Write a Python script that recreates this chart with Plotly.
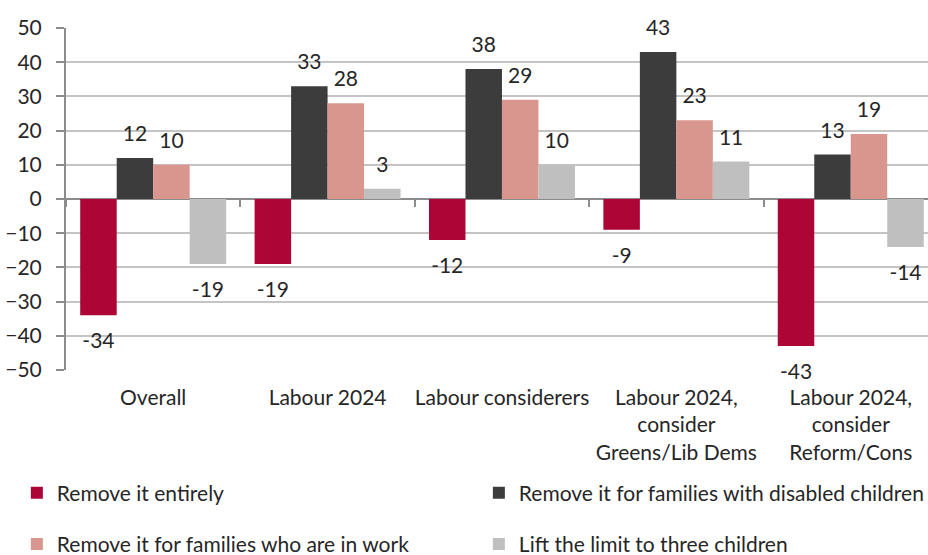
import plotly.graph_objects as go

# ---------------- data ----------------
categories = [
    "Overall",
    "Labour 2024",
    "Labour considerers",
    "Labour 2024,<br>consider<br>Greens/Lib Dems",
    "Labour 2024,<br>consider<br>Reform/Cons",
]
series_names = [
    "Remove it entirely",
    "Remove it for families with disabled children",
    "Remove it for families who are in work",
    "Lift the limit to three children",
]
remove_entirely = [-34, -19, -12, -9, -43]
remove_disabled = [12, 33, 38, 43, 13]
remove_in_work = [10, 28, 29, 23, 19]
lift_to_three = [-19, 3, 10, 11, -14]
y_tick_values = [-50, -40, -30, -20, -10, 0, 10, 20, 30, 40, 50]

series_values = [remove_entirely, remove_disabled, remove_in_work, lift_to_three]

# ---------------- style ----------------
colors = ["#AC0536", "#3C3C3C", "#D8968F", "#BFBFBF"]
legend_ids = ["legend", "legend", "legend2", "legend2"]
FONT = "Lato, 'Open Sans', sans-serif"
TEXT_COLOR = "#262626"
AXIS_GRAY = "#8C8C8C"
GRID_GRAY = "#C4C4C4"
GAP = 0.163

fig = go.Figure()

for i, (name, vals) in enumerate(zip(series_names, series_values)):
    fig.add_trace(go.Bar(
        x=categories, y=vals, name=name,
        marker=dict(color=colors[i], line=dict(width=0)),
        offsetgroup=str(i), legend=legend_ids[i],
        hoverinfo="skip",
    ))

# value labels: invisible markers grouped like the bars, text offset from bar ends
for i, vals in enumerate(series_values):
    fig.add_trace(go.Scatter(
        x=categories, y=vals, xaxis="x2", yaxis="y",
        mode="markers+text",
        text=[str(v) for v in vals],
        textposition=["top center" if v >= 0 else "bottom center" for v in vals],
        textfont=dict(family=FONT, size=21, color=TEXT_COLOR),
        marker=dict(size=[17 if v >= 0 else 26 for v in vals], opacity=0),
        offsetgroup=str(i), orientation="v",
        showlegend=False, hoverinfo="skip", cliponaxis=False,
    ))

xrange = [-0.5, 4.443]

fig.update_layout(
    width=928, height=555,
    margin=dict(l=66, r=0, t=28, b=185, autoexpand=False),
    paper_bgcolor="white", plot_bgcolor="white",
    barmode="group", bargap=GAP, bargroupgap=0,
    scattermode="group", scattergap=GAP,
    font=dict(family=FONT, size=20, color=TEXT_COLOR),
    xaxis=dict(
        type="category", range=xrange,
        showgrid=False, zeroline=False, showline=False, ticks="",
        tickfont=dict(family=FONT, size=21, color=TEXT_COLOR),
        ticklabelstandoff=13,
    ),
    xaxis2=dict(
        type="category", range=xrange, overlaying="x", anchor="free",
        position=0.5, side="bottom",
        showgrid=False, zeroline=False, showline=False,
        showticklabels=False, ticks="outside", ticklen=7, tickwidth=2,
        tickcolor=AXIS_GRAY, tickson="boundaries",
    ),
    yaxis=dict(
        range=[-50, 50], tickvals=y_tick_values,
        showgrid=True, gridcolor=GRID_GRAY, gridwidth=2,
        zeroline=True, zerolinecolor=AXIS_GRAY, zerolinewidth=2,
        showline=True, linecolor=AXIS_GRAY, linewidth=2,
        ticks="outside", ticklen=8, tickwidth=2, tickcolor=AXIS_GRAY,
        tickfont=dict(family=FONT, size=21, color=TEXT_COLOR),
        ticklabelstandoff=10,
    ),
    legend=dict(
        orientation="h", x=-0.057, xanchor="left", y=-0.36, yanchor="middle",
        entrywidth=417, entrywidthmode="pixels",
        font=dict(family=FONT, size=21, color=TEXT_COLOR),
        bgcolor="rgba(0,0,0,0)", itemclick=False, itemdoubleclick=False,
    ),
    legend2=dict(
        orientation="h", x=-0.057, xanchor="left", y=-0.51, yanchor="middle",
        entrywidth=417, entrywidthmode="pixels",
        font=dict(family=FONT, size=21, color=TEXT_COLOR),
        bgcolor="rgba(0,0,0,0)", itemclick=False, itemdoubleclick=False,
    ),
)

fig.write_html("out.html")
